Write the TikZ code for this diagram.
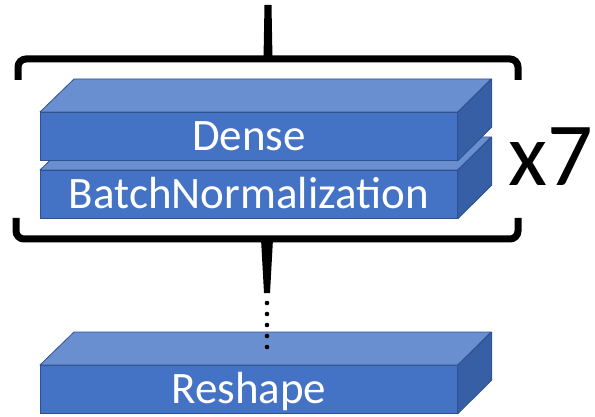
\documentclass[tikz,border=0pt]{standalone}
\usepackage{fontspec}
\setmainfont{Carlito}
\definecolor{frontblue}{HTML}{4472C4}
\definecolor{topblue}{HTML}{6A8FD0}
\definecolor{sideblue}{HTML}{365FA6}
\definecolor{edgeblue}{HTML}{2F528F}
\tikzset{
  front/.style={draw=edgeblue, fill=frontblue, line width=0.8pt,
    minimum width=417pt, minimum height=48pt, inner sep=0pt,
    text=white, font=\fontsize{45}{45}\selectfont,
    text height=27.5pt, text depth=0pt, anchor=north west},
  topface/.style={draw=edgeblue, fill=topblue, line width=0.8pt, line join=round},
  sideface/.style={draw=edgeblue, fill=sideblue, line width=0.8pt, line join=round},
  bracket/.style={line width=7pt, rounded corners=8pt},
}
\newcommand\layerbox[3]{%
  \node[front] (#1) at #2 {#3};
  \draw[topface] (#1.north west) -- ++(34,-33) -- ++(417,0) -- (#1.north east) -- cycle;
  \draw[sideface] (#1.north east) -- ++(34,-33) -- ++(0,48) -- (#1.south east) -- cycle;
}
\begin{document}
\begin{tikzpicture}[x=1pt,y=-1pt]
  \useasboundingbox (0,0) rectangle (595,417);
  % boxes
  \layerbox{bn}{(40,170)}{BatchNormalization}
  \layerbox{dense}{(40,112)}{Dense}
  \layerbox{reshape}{(40,365)}{Reshape}
  % top bracket
  \coordinate (in) at (268,5);
  \coordinate (topmid) at (268,59);
  \draw[bracket] (18,80) -- (18,59) -- (518,59) -- (518,80);
  \fill ([xshift=-3.5pt]in) -- ([xshift=3.5pt]in) -- ([xshift=4.5pt]topmid) -- ([xshift=-4.5pt]topmid) -- cycle;
  % bottom bracket
  \coordinate (botmid) at (267,239);
  \coordinate (stemend) at (267,293);
  \draw[bracket] (16,218) -- (16,239) -- (518,239) -- (518,218);
  \fill ([xshift=-6pt]botmid) -- ([xshift=6pt]botmid) -- ([xshift=3pt]stemend) -- ([xshift=-3pt]stemend) -- cycle;
  % dotted continuation
  \foreach \yy in {303,314,325,336,347} \fill (267,\yy) circle (2.3pt);
  % repetition label
  \node[anchor=base west, font=\fontsize{90}{90}\selectfont, inner sep=0pt] (rep) at (508,186) {x7};
\end{tikzpicture}
\end{document}
